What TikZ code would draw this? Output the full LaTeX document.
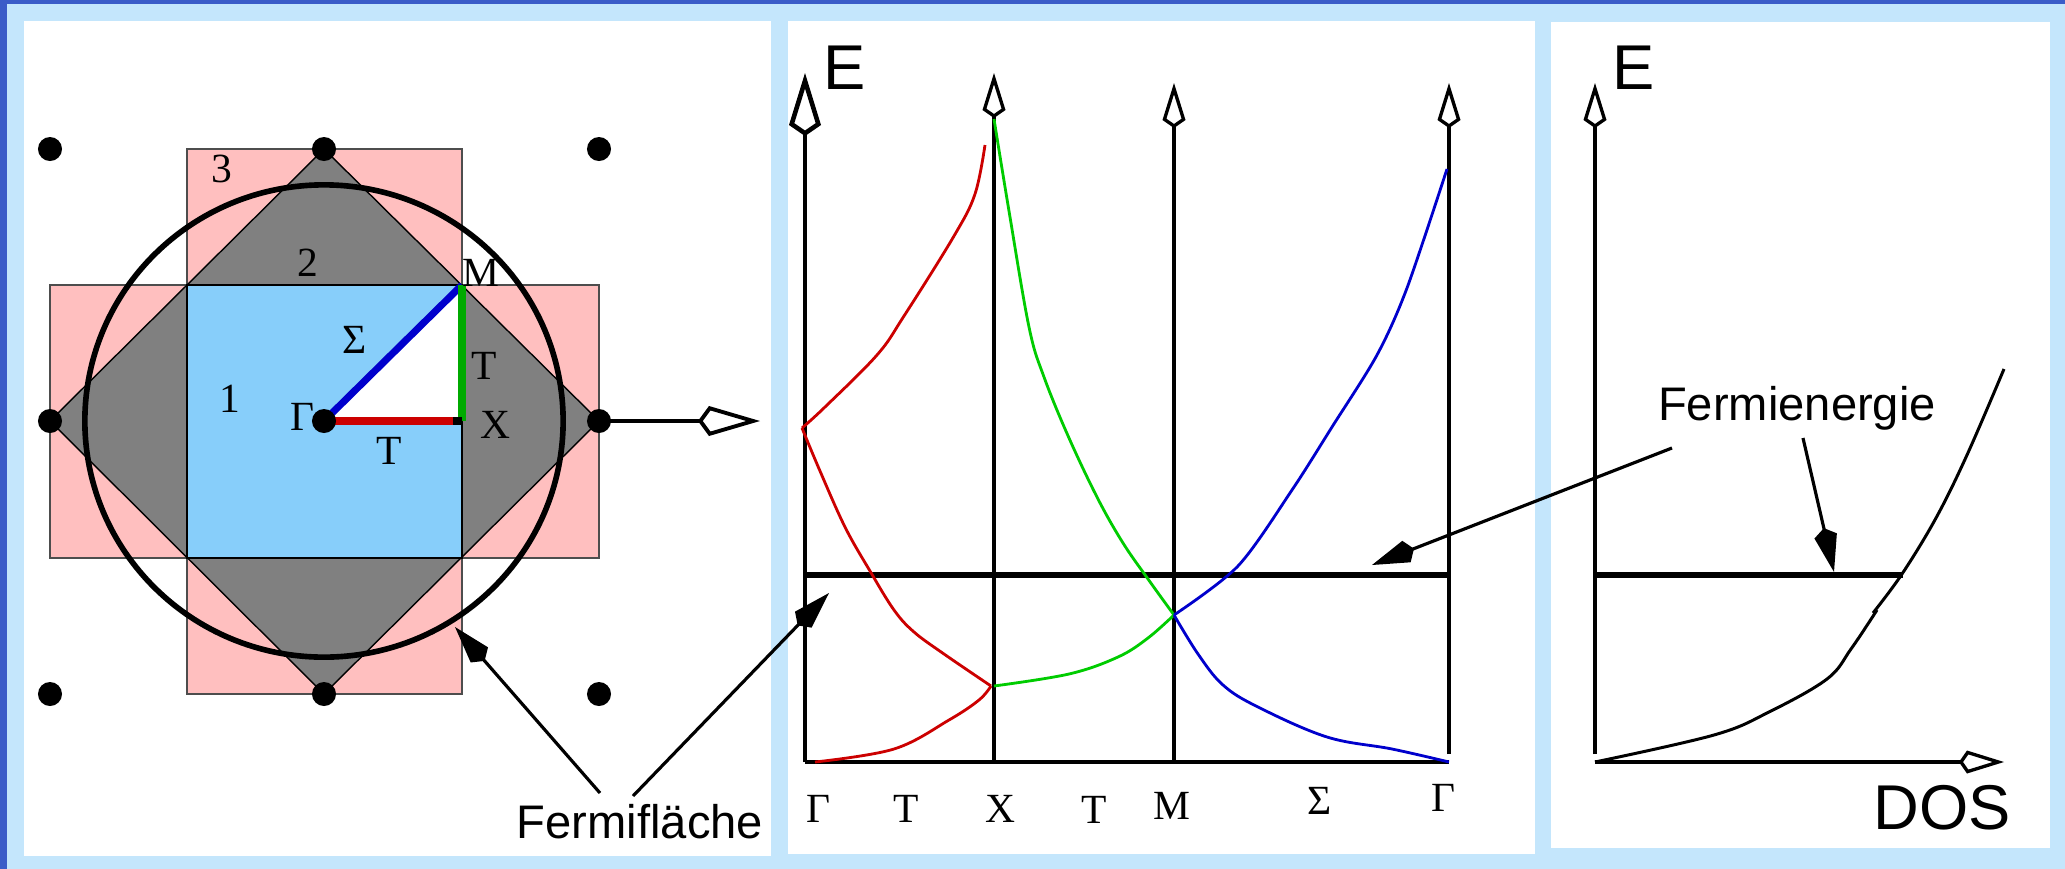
\documentclass[tikz,border=0pt]{standalone}
\usepackage{fontspec}
\setmainfont{Liberation Serif}
\setsansfont{Liberation Sans}
\usetikzlibrary{arrows.meta}
\definecolor{cframe}{HTML}{3B5CC8}
\definecolor{cback}{HTML}{C4E6FC}
\definecolor{cpink}{HTML}{FFBFBF}
\definecolor{cgray}{HTML}{808080}
\definecolor{csky}{HTML}{87CEFA}
\definecolor{cred}{HTML}{CC0000}
\definecolor{cgreen}{HTML}{00CC00}
\definecolor{cdkgreen}{HTML}{00AA00}
\definecolor{cblue}{HTML}{0000CC}

\begin{document}
\begin{tikzpicture}[x=0.01cm, y=-0.01cm,
  lbl/.style={font=\sffamily\fontsize{13.4}{16}\selectfont, inner sep=0pt},
  axlbl/.style={font=\sffamily\fontsize{18}{21}\selectfont, inner sep=0pt},
  sym/.style={font=\fontsize{11.8}{14}\selectfont, inner sep=0pt},
  axis/.style={line width=0.95pt},
  axisbig/.style={axis, -{Kite[open, length=6.3mm, width=3.2mm, inset=1.1mm, line width=1.3pt]}},
  axissmall/.style={axis, -{Kite[open, length=4.5mm, width=2.3mm, inset=0.8mm]}},
  pointer/.style={line width=0.9pt, -{Kite[length=4.5mm, width=2.3mm, inset=0.8mm]}},
  fermi/.style={line width=1.9pt},
  band/.style={line width=0.8pt},
  kpath/.style={line width=2pt},
  panel/.style={fill=white},
]

% Background, frame and the three white panels
\fill[cback] (0,0) rectangle (2065,869);
\fill[cframe] (0,0) rectangle (2065,4);
\fill[cframe] (0,0) rectangle (7,869);
\fill[panel] (24,21) rectangle (771,856);
\fill[panel] (788,21) rectangle (1535,854);
\fill[panel] (1551,22) rectangle (2050,848);

% ============================================================
% Panel 1: Brillouin zones of the square lattice

% Zone 3 (pink cross)
\filldraw[fill=cpink, draw=cgray!60!black, line width=0.3pt] (187,149) rectangle (462,694);
\filldraw[fill=cpink, draw=cgray!60!black, line width=0.3pt] (50,285) rectangle (599,558);
% Zone 2 (grey diamond)
\filldraw[fill=cgray, draw=black, line width=0.4pt] (324,149) -- (599,421) -- (324,694) -- (50,421) -- cycle;
% Zone 1 (blue square)
\filldraw[fill=csky, draw=black, line width=0.5pt] (187,285) rectangle (462,558);

\coordinate (G) at (324,421);
\coordinate (X) at (462,421);
\coordinate (M) at (462,285);
\coordinate (Xr) at (453,421);

% Irreducible wedge and the k-path
\fill[white] (G) -- (M) -- (X) -- cycle;
\draw[kpath, cblue] (G) -- (M);
\draw[kpath, cdkgreen] (M) -- (X);
\draw[kpath, cred] (G) -- (Xr);
\draw[kpath] (Xr) -- (X);

% Zone numbers and point labels
\node[sym] (n3) at (222,169) {3};
\node[sym] (n2) at (308,263) {2};
\node[sym] (n1) at (230,399) {1};
\node[sym] (lG) at (302,417) {Γ};
\node[sym] (lS) at (355,340) {Σ};
\node[sym] (lT1) at (484,366) {T};
\node[sym] (lX) at (495,425) {X};
\node[sym] (lT2) at (389,451) {T};
\node[sym] (lM) at (481,273) {M};

% Fermi circle
\draw[line width=1.6pt] (G) ellipse[x radius=2.39cm, y radius=2.36cm];

% Reciprocal lattice points
\foreach \px in {50,324,599}
  \foreach \py in {149,421,694}
    \fill (\px,\py) circle[radius=0.12cm];

% k_x direction
\coordinate (kx) at (760,421);
\draw[line width=1pt, -{Kite[open, length=6.2mm, width=3mm, inset=1.1mm, line width=1.1pt]}] (599,421) -- (kx);

% ============================================================
% Panel 2: band structure along Gamma - X - M - Gamma

\draw[axisbig] (805,762) -- (805,73);
\draw[axissmall] (994,762) -- (994,73);
\draw[axissmall] (1174,762) -- (1174,83);
\draw[axissmall] (1449,754) -- (1449,83);
\draw[axis] (805,762) -- (1449,762);
\node[axlbl, anchor=base] (E1) at (845,89) {E};

% Fermi level
\draw[fermi] (805,575) -- (1449,575);

% Bands
\draw[band, cred] plot[smooth, tension=0.6] coordinates {
  (985,145) (975,194) (954,236) (904,316) (877,355) (825,407) (802,428)};
\draw[band, cred] plot[smooth, tension=0.6] coordinates {
  (802,428) (820,471) (845,527) (870,571) (894,610) (914,632) (944,654) (991,686)};
\draw[band, cred] plot[smooth, tension=0.6] coordinates {
  (991,686) (979,700) (949,720) (894,749) (815,762)};
\draw[band, cgreen] plot[smooth, tension=0.6] coordinates {
  (994,119) (1009,211) (1029,327) (1044,377) (1069,438) (1098,499) (1123,543) (1148,579) (1174,615)};
\draw[band, cgreen] plot[smooth, tension=0.6] coordinates {
  (994,686) (1069,674) (1118,657) (1148,638) (1174,615)};
\draw[band, cblue] plot[smooth, tension=0.5] coordinates {
  (1174,615) (1238,566) (1292,490) (1332,427) (1377,355) (1407,288) (1447,169)};
\draw[band, cblue] plot[smooth, tension=0.6] coordinates {
  (1174,615) (1198,654) (1223,685) (1258,707) (1327,737) (1392,749) (1449,762)};

% k-point labels
\node[sym] (bG1) at (818,809) {Γ};
\node[sym] (bT1) at (906,809) {T};
\node[sym] (bX) at (1000,809) {X};
\node[sym] (bT2) at (1094,810) {T};
\node[sym] (bM) at (1172,806) {M};
\node[sym] (bS) at (1320,801) {Σ};
\node[sym] (bG2) at (1443,798) {Γ};

% ============================================================
% Panel 3: density of states

\draw[axissmall] (1595,754) -- (1595,83);
\draw[axissmall] (1595,762) -- (2004,762);
\node[axlbl, anchor=base] (E2) at (1634,89) {E};
\node[axlbl, anchor=base] (dos) at (1942,829) {DOS};
\draw[fermi] (1595,575) -- (1903,575);

\draw[line width=0.85pt] plot[smooth, tension=0.6] coordinates {
  (1595,762) (1714,735) (1769,712) (1827,679) (1851,649) (1877,610)};
\draw[line width=0.85pt] plot[smooth, tension=0.6] coordinates {
  (1873,613) (1902,574) (1936,518) (1967,455) (2004,369)};

% ============================================================
% Labels with pointers

\node[lbl, anchor=base] (fsurf) at (640,838) {Fermifläche};
\coordinate (fsurfL) at (600,793);
\coordinate (fsurfR) at (633,796);
\coordinate (fcirc) at (455,627);
\coordinate (fband) at (829,593);
\draw[pointer] (fsurfL) -- (fcirc);
\draw[pointer] (fsurfR) -- (fband);

\node[lbl, anchor=base] (fen) at (1797,420) {Fermienergie};
\coordinate (fenL) at (1672,448);
\coordinate (fenR) at (1803,438);
\coordinate (fband2) at (1372,565);
\coordinate (fdos) at (1834,572);
\draw[pointer] (fenL) -- (fband2);
\draw[pointer] (fenR) -- (fdos);

\end{tikzpicture}
\end{document}
